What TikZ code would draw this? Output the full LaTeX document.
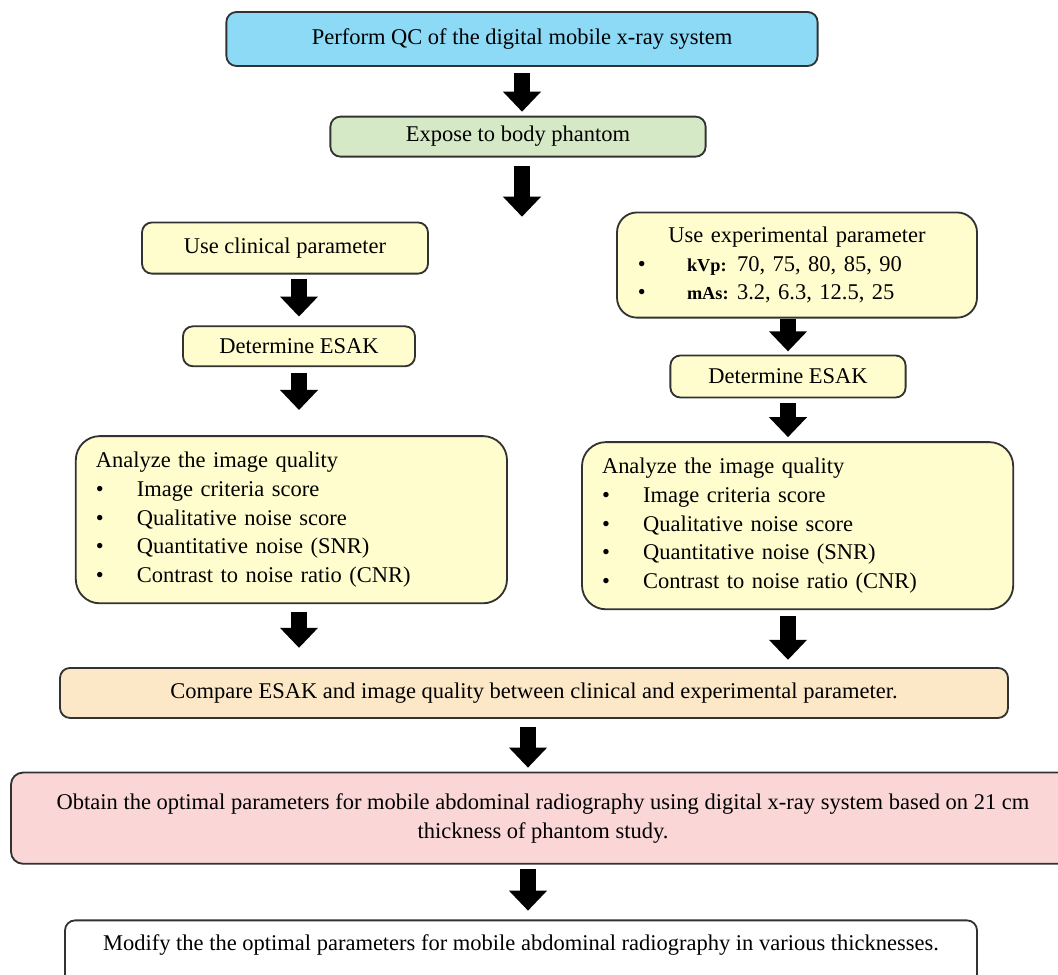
\documentclass[tikz,border=0pt]{standalone}
\usepackage{fontspec}
\setmainfont{Liberation Serif}
\usetikzlibrary{positioning, calc, arrows.meta}
\definecolor{qcblue}{RGB}{140,218,246}
\definecolor{phgreen}{RGB}{214,233,198}
\definecolor{paryellow}{RGB}{255,253,205}
\definecolor{cmppeach}{RGB}{252,231,199}
\definecolor{optpink}{RGB}{250,214,214}
\definecolor{edgegray}{RGB}{50,50,50}

\begin{document}
\begin{tikzpicture}[box/.style={draw=edgegray, line width=1.3pt, rounded corners=#1, align=center, inner sep=0pt, font=\fontsize{16}{20.5}\selectfont},
  box/.default=.25cm,
  list/.style={box=.6cm, fill=paryellow, align=left, text width=9.78cm, inner xsep=.5cm, minimum height=4.18cm},
  fatarrow/.style={line width=.4cm, -{Triangle[width=.92cm, length=.5cm]}}]

\newcommand*{\dotitem}[1]{\makebox[1.03cm][l]{\textbullet}#1}
\newcommand*{\parlabel}[1]{\makebox[1.25cm][l]{\fontsize{13}{20.5}\selectfont\bfseries #1}}

\path [use as bounding box, clip] (0,0) rectangle (26.45,-24.375);

% STEPS

\node [box, fill=qcblue, minimum width=14.78cm, minimum height=1.35cm] (perform) at (13.05,-.975) {Perform QC of the digital mobile x-ray system};

\node [box, fill=phgreen, minimum width=9.38cm, minimum height=1cm, below=1.22cm of perform, xshift=-.1cm] (expose) {Expose to body phantom};

% clinical branch
\node [box, fill=paryellow, minimum width=7.15cm, minimum height=1.28cm, below=1.6cm of expose, xshift=-5.825cm] (clin) {Use clinical parameter};

\node [box, fill=paryellow, minimum width=5.8cm, minimum height=1cm, below=1.27cm of clin, xshift=.35cm] (detL) {Determine ESAK};

\node [list, below=1.7cm of detL, xshift=-.19cm] (anaL)
{Analyze the image quality\\
\dotitem{Image criteria score}\\
\dotitem{Qualitative noise score}\\
\dotitem{Quantitative noise (SNR)}\\
\dotitem{Contrast to noise ratio (CNR)}};

% experimental branch
\node [box=.5cm, fill=paryellow, align=left, text width=8.4cm, inner xsep=.3cm, minimum height=2.63cm, below=1.35cm of expose, xshift=6.975cm] (exper)
{\makebox[8.4cm]{Use experimental parameter}\\
\hspace*{.22cm}\makebox[1.23cm][l]{\textbullet}\parlabel{kVp:}70, 75, 80, 85, 90\\
\hspace*{.22cm}\makebox[1.23cm][l]{\textbullet}\parlabel{mAs:}3.2, 6.3, 12.5, 25};

\node [box, fill=paryellow, minimum width=5.88cm, minimum height=1.05cm, below=.9cm of exper, xshift=-.225cm] (detR) {Determine ESAK};

\node [list, below=1.07cm of detR, xshift=.24cm] (anaR)
{Analyze the image quality\\
\dotitem{Image criteria score}\\
\dotitem{Qualitative noise score}\\
\dotitem{Quantitative noise (SNR)}\\
\dotitem{Contrast to noise ratio (CNR)}};

% results
\node [box, fill=cmppeach, minimum width=23.7cm, minimum height=1.25cm, below=1.42cm of anaR, xshift=-6.59cm] (compare) {Compare ESAK and image quality between clinical and experimental parameter.};

\node [box=.3cm, fill=optpink, minimum width=26.6cm, minimum height=2.28cm, below=1.32cm of compare, xshift=.225cm] (obtain)
{Obtain the optimal parameters for mobile abdominal radiography using digital x-ray system based on 21 cm\\
thickness of phantom study.};

\node [box, fill=white, minimum width=22.8cm, minimum height=1.65cm, text depth=.55cm, below=1.37cm of obtain, xshift=-.55cm] (modify) {Modify the the optimal parameters for mobile abdominal radiography in various thicknesses.};

% ARROWS

\coordinate (split) at ($(expose.south -| perform.south) + (0,-1.48)$);
\coordinate (cmid) at ($(compare.south) + (-.15,0)$);

\draw [fatarrow, shorten <=.15cm, shorten >=.1cm] (perform.south) -- (perform.south |- expose.north);
\draw [fatarrow, shorten <=.22cm] (expose.south -| perform.south) -- (split);
\draw [fatarrow, shorten <=.12cm, shorten >=.22cm] (clin.south -| detL) -- (detL.north);
\draw [fatarrow, shorten <=.15cm, shorten >=.63cm] (detL.south) -- (detL.south |- anaL.north);
\draw [fatarrow, shorten <=.2cm, shorten >=.48cm] (anaL.south -| detL) -- (detL |- compare.north);
\draw [fatarrow, shorten <=.02cm, shorten >=.08cm] (exper.south -| detR) -- (detR.north);
\draw [fatarrow, shorten <=.12cm, shorten >=.1cm] (detR.south) -- (detR.south |- anaR.north);
\draw [fatarrow, shorten <=.15cm, shorten >=.18cm] (anaR.south -| detR) -- (detR |- compare.north);
\draw [fatarrow, shorten <=.2cm, shorten >=.1cm] (cmid) -- (cmid |- obtain.north);
\draw [fatarrow, shorten <=.1cm, shorten >=.22cm] (cmid |- obtain.south) -- (cmid |- modify.north);

\end{tikzpicture}
\end{document}
